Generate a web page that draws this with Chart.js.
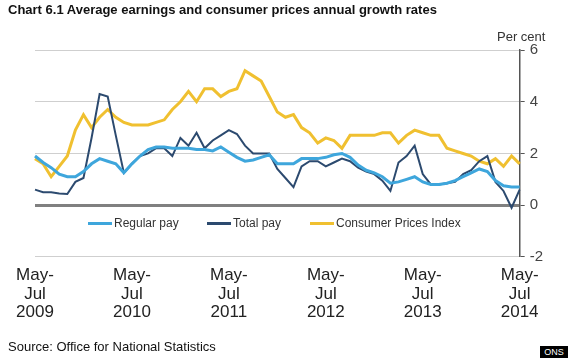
<!DOCTYPE html>
<html>
<head>
<meta charset="utf-8">
<script src="https://cdn.jsdelivr.net/npm/chart.js@4.4.1/dist/chart.umd.min.js"></script>
<style>
  html, body { margin:0; padding:0; background:#fff; }
  body { width:570px; height:359px; position:relative; overflow:hidden; font-family:"Liberation Sans", Arial, sans-serif; }
  #wrap { position:absolute; left:0; top:0; width:570px; height:359px; }
  .txt { position:absolute; white-space:nowrap; }
  #title { left:8px; top:2px; font-weight:bold; font-size:13px; color:#111; }
  #unit { left:497px; top:29px; font-size:13px; color:#333; }
  #legend { left:88px; top:215px; font-size:12px; color:#333; height:16px; }
  .item { position:absolute; top:0; height:16px; line-height:16px; }
  .swatch { position:absolute; top:7px; left:0; width:24px; height:2.5px; }
  .lab { position:absolute; left:26px; top:0; }
  #source { left:8px; top:339px; font-size:13px; color:#111; }
  #ons { left:540px; top:346px; width:28px; height:12px; background:#000; color:#fff; font-size:9px; line-height:12px; text-align:center; }
</style>
</head>
<body>
<div id="wrap"><canvas id="c" width="570" height="359"></canvas></div>
<div class="txt" id="title">Chart 6.1 Average earnings and consumer prices annual growth rates</div>
<div class="txt" id="unit">Per cent</div>
<div class="txt" id="legend"></div>
<div class="txt" id="source">Source: Office for National Statistics</div>
<div class="txt" id="ons">ONS</div>
<script>
const categories = [
  "May-Jul 2009","Jun-Aug 2009","Jul-Sep 2009","Aug-Oct 2009","Sep-Nov 2009","Oct-Dec 2009",
  "Nov-Jan 2010","Dec-Feb 2010","Jan-Mar 2010","Feb-Apr 2010","Mar-May 2010","Apr-Jun 2010",
  "May-Jul 2010","Jun-Aug 2010","Jul-Sep 2010","Aug-Oct 2010","Sep-Nov 2010","Oct-Dec 2010",
  "Nov-Jan 2011","Dec-Feb 2011","Jan-Mar 2011","Feb-Apr 2011","Mar-May 2011","Apr-Jun 2011",
  "May-Jul 2011","Jun-Aug 2011","Jul-Sep 2011","Aug-Oct 2011","Sep-Nov 2011","Oct-Dec 2011",
  "Nov-Jan 2012","Dec-Feb 2012","Jan-Mar 2012","Feb-Apr 2012","Mar-May 2012","Apr-Jun 2012",
  "May-Jul 2012","Jun-Aug 2012","Jul-Sep 2012","Aug-Oct 2012","Sep-Nov 2012","Oct-Dec 2012",
  "Nov-Jan 2013","Dec-Feb 2013","Jan-Mar 2013","Feb-Apr 2013","Mar-May 2013","Apr-Jun 2013",
  "May-Jul 2013","Jun-Aug 2013","Jul-Sep 2013","Aug-Oct 2013","Sep-Nov 2013","Oct-Dec 2013",
  "Nov-Jan 2014","Dec-Feb 2014","Jan-Mar 2014","Feb-Apr 2014","Mar-May 2014","Apr-Jun 2014",
  "May-Jul 2014"
];
const labelledCategories = ["May-Jul 2009","May-Jul 2010","May-Jul 2011","May-Jul 2012","May-Jul 2013","May-Jul 2014"];

const regularPay = [
  1.9,1.65,1.45,1.2,1.1,1.1,1.3,1.6,1.8,1.7,1.6,1.25,
  1.6,1.9,2.15,2.25,2.25,2.2,2.2,2.2,2.15,2.15,2.1,2.25,
  2.05,1.85,1.7,1.75,1.85,1.95,1.6,1.6,1.6,1.8,1.8,1.8,
  1.85,1.95,2.0,1.85,1.55,1.35,1.25,1.1,0.85,0.9,1.0,1.1,
  0.9,0.8,0.8,0.85,0.95,1.1,1.25,1.4,1.3,0.95,0.75,0.7,
  0.7
];
const totalPay = [
  0.6,0.5,0.5,0.45,0.43,0.9,1.05,2.6,4.3,4.2,2.7,1.25,
  1.6,1.9,2.0,2.2,2.2,1.9,2.6,2.3,2.8,2.2,2.5,2.7,
  2.9,2.75,2.3,2.0,2.0,2.0,1.4,1.05,0.7,1.5,1.7,1.7,
  1.5,1.65,1.8,1.7,1.45,1.3,1.2,0.95,0.55,1.65,1.9,2.3,
  1.2,0.8,0.8,0.85,0.9,1.2,1.35,1.7,1.9,0.9,0.55,-0.1,
  0.6
];
const cpi = [
  1.8,1.6,1.1,1.5,1.9,2.9,3.5,3.0,3.4,3.7,3.4,3.2,
  3.1,3.1,3.1,3.2,3.3,3.7,4.0,4.4,4.0,4.5,4.5,4.2,
  4.4,4.5,5.2,5.0,4.8,4.2,3.6,3.4,3.5,3.0,2.8,2.4,
  2.6,2.5,2.2,2.7,2.7,2.7,2.7,2.8,2.8,2.4,2.7,2.9,
  2.8,2.7,2.7,2.2,2.1,2.0,1.9,1.7,1.6,1.8,1.5,1.9,
  1.6
];
const yTicks = [-2, 0, 2, 4, 6];

const seriesNames = ["Regular pay","Total pay","Consumer Prices Index"];
const seriesColors = ["#3ea6dc","#2c4a6f","#f0c030"];
const seriesWidths = [3, 2, 3];
const seriesData = [regularPay, totalPay, cpi];

const datasets = seriesNames.map((n, i) => ({
  label: n,
  data: seriesData[i],
  borderColor: seriesColors[i],
  backgroundColor: seriesColors[i],
  borderWidth: seriesWidths[i],
  pointRadius: 0,
  tension: 0,
  fill: false
}));

// HTML legend
const legendX = [0, 119, 222];
const lg = document.getElementById('legend');
seriesNames.forEach((n, i) => {
  const it = document.createElement('div');
  it.className = 'item';
  it.style.left = legendX[i] + 'px';
  it.innerHTML = '<div class="swatch" style="background:' + seriesColors[i] + '"></div><div class="lab">' + n + '</div>';
  lg.appendChild(it);
});

new Chart(document.getElementById('c'), {
  type: 'line',
  data: { labels: categories, datasets: datasets },
  options: {
    responsive: false,
    animation: false,
    devicePixelRatio: 1,
    layout: { padding: { left: 35, right: 22, top: 50, bottom: 28 } },
    plugins: { legend: { display: false }, tooltip: { enabled: false } },
    scales: {
      x: {
        type: 'category',
        offset: false,
        grid: { display: false, drawTicks: false },
        border: { display: false },
        ticks: {
          autoSkip: false, maxRotation: 0, minRotation: 0,
          color: '#222',
          font: { family: '"Liberation Sans", Arial, sans-serif', size: 17, lineHeight: 1.1 },
          padding: 9,
          callback: function(v, idx) {
            const lab = categories[idx];
            if (labelledCategories.indexOf(lab) < 0) return '';
            const parts = lab.split(' ');
            const m = parts[0].split('-');
            return [m[0] + '-', m[1], parts[1]];
          }
        }
      },
      y: {
        position: 'right',
        min: yTicks[0], max: yTicks[yTicks.length - 1],
        afterBuildTicks: (axis) => { axis.ticks = yTicks.map(v => ({ value: v })); },
        ticks: {
          color: '#444',
          font: { family: '"Liberation Sans", Arial, sans-serif', size: 15 },
          padding: 5
        },
        grid: {
          color: (ctx) => ctx.tick && ctx.tick.value === 0 ? '#808080' : '#cfcfcf',
          lineWidth: (ctx) => ctx.tick && ctx.tick.value === 0 ? 3 : 1,
          tickLength: 5,
          tickColor: '#555',
          tickWidth: 1
        },
        border: { display: true, color: '#555', width: 1.5 }
      }
    }
  }
});
</script>
</body>
</html>
